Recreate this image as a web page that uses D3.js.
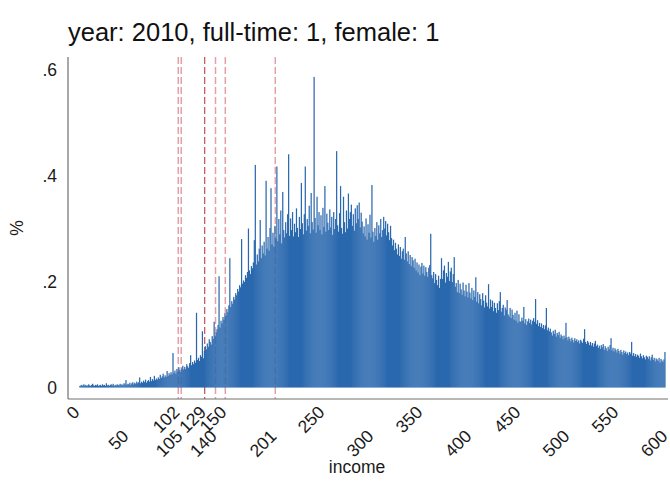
<!DOCTYPE html>
<html>
<head>
<meta charset="utf-8">
<script src="https://cdn.jsdelivr.net/npm/d3@7"></script>
<style>
  body { margin: 0; background: #fff; }
  text { font-family: "Liberation Sans", Arial, sans-serif; }
</style>
</head>
<body>
<svg id="chart" width="670" height="489"></svg>
<script>
// Share of observations (%) per income unit, starting at income 1
const incomeStart = 1;
const percents = [
  0.003,0.004,0.005,0.003,0.006,0.004,0.005,0.003,0.004,0.006,
  0.004,0.003,0.005,0.007,0.004,0.003,0.005,0.004,0.006,0.003,
  0.004,0.005,0.003,0.006,0.004,0.005,0.003,0.008,0.004,0.005,
  0.003,0.005,0.006,0.004,0.007,0.003,0.005,0.004,0.006,0.005,
  0.004,0.007,0.005,0.006,0.004,0.008,0.006,0.014,0.005,0.007,
  0.006,0.009,0.005,0.008,0.010,0.006,0.009,0.007,0.011,0.008,
  0.010,0.019,0.008,0.011,0.009,0.013,0.010,0.015,0.009,0.012,
  0.014,0.011,0.020,0.012,0.016,0.013,0.022,0.014,0.017,0.015,
  0.019,0.016,0.024,0.018,0.021,0.026,0.019,0.023,0.020,0.031,
  0.022,0.027,0.024,0.029,0.025,0.065,0.028,0.032,0.026,0.035,
  0.030,0.038,0.033,0.029,0.036,0.041,0.034,0.039,0.035,0.044,
  0.040,0.037,0.046,0.061,0.042,0.048,0.044,0.051,0.047,0.141,
  0.052,0.056,0.050,0.061,0.058,0.106,0.055,0.069,0.078,0.072,
  0.083,0.077,0.091,0.086,0.081,0.097,0.092,0.124,0.098,0.104,
  0.110,0.118,0.210,0.113,0.126,0.121,0.133,0.128,0.140,0.136,
  0.148,0.142,0.155,0.244,0.152,0.163,0.158,0.171,0.166,0.178,
  0.174,0.186,0.181,0.193,0.189,0.280,0.196,0.202,0.199,0.212,
  0.207,0.218,0.300,0.221,0.214,0.229,0.225,0.236,0.278,0.420,
  0.232,0.251,0.238,0.262,0.316,0.244,0.268,0.253,0.275,0.249,
  0.390,0.262,0.284,0.258,0.301,0.376,0.270,0.292,0.266,0.305,
  0.281,0.417,0.276,0.318,0.289,0.334,0.272,0.369,0.297,0.283,
  0.312,0.291,0.327,0.440,0.286,0.319,0.297,0.331,0.285,0.309,
  0.293,0.338,0.301,0.284,0.322,0.299,0.386,0.310,0.289,0.327,
  0.417,0.296,0.318,0.305,0.343,0.291,0.367,0.312,0.298,0.586,
  0.320,0.292,0.360,0.306,0.331,0.297,0.325,0.289,0.339,0.303,
  0.380,0.294,0.328,0.311,0.297,0.336,0.302,0.322,0.288,0.331,
  0.299,0.318,0.446,0.306,0.294,0.329,0.380,0.301,0.290,0.360,
  0.312,0.293,0.334,0.300,0.366,0.318,0.331,0.345,0.305,0.327,
  0.296,0.338,0.310,0.344,0.318,0.349,0.302,0.330,0.313,0.291,
  0.304,0.285,0.319,0.279,0.308,0.292,0.326,0.283,0.382,0.294,
  0.275,0.301,0.286,0.312,0.279,0.306,0.291,0.318,0.284,0.297,
  0.322,0.300,0.314,0.287,0.309,0.293,0.278,0.305,0.282,0.268,
  0.279,0.259,0.273,0.262,0.251,0.270,0.248,0.265,0.243,0.257,
  0.262,0.241,0.284,0.253,0.238,0.257,0.233,0.250,0.229,0.246,
  0.240,0.226,0.243,0.221,0.236,0.217,0.232,0.212,0.228,0.235,
  0.215,0.230,0.211,0.227,0.218,0.209,0.226,0.231,0.290,0.212,
  0.206,0.218,0.197,0.214,0.203,0.193,0.211,0.188,0.205,0.244,
  0.205,0.221,0.230,0.198,0.216,0.209,0.237,0.201,0.219,0.226,
  0.199,0.214,0.246,0.190,0.197,0.180,0.203,0.178,0.196,0.185,
  0.175,0.198,0.183,0.172,0.194,0.181,0.170,0.197,0.179,0.168,
  0.188,0.165,0.183,0.171,0.208,0.162,0.180,0.159,0.176,0.167,
  0.155,0.178,0.164,0.151,0.174,0.160,0.153,0.195,0.149,0.166,
  0.152,0.164,0.144,0.160,0.150,0.141,0.159,0.146,0.163,0.180,
  0.143,0.150,0.156,0.136,0.151,0.147,0.165,0.138,0.134,0.150,
  0.131,0.147,0.137,0.128,0.141,0.126,0.145,0.122,0.138,0.125,
  0.124,0.132,0.126,0.152,0.121,0.129,0.118,0.125,0.130,0.122,
  0.128,0.119,0.126,0.131,0.124,0.167,0.120,0.127,0.116,0.122,
  0.114,0.121,0.112,0.118,0.110,0.117,0.150,0.108,0.113,0.106,
  0.111,0.104,0.098,0.107,0.101,0.109,0.096,0.103,0.099,0.105,
  0.094,0.100,0.097,0.091,0.098,0.093,0.122,0.095,0.089,0.096,
  0.092,0.087,0.094,0.090,0.085,0.093,0.088,0.091,0.086,0.089,
  0.083,0.090,0.087,0.084,0.092,0.110,0.086,0.082,0.088,0.085,
  0.080,0.086,0.079,0.084,0.077,0.083,0.088,0.078,0.081,0.075,
  0.079,0.073,0.080,0.076,0.082,0.071,0.078,0.074,0.069,0.077,
  0.072,0.080,0.093,0.070,0.075,0.068,0.074,0.071,0.066,0.073,
  0.069,0.064,0.071,0.067,0.062,0.070,0.065,0.068,0.063,0.066,
  0.061,0.067,0.064,0.086,0.060,0.065,0.059,0.063,0.058,0.062,
  0.060,0.056,0.064,0.059,0.055,0.061,0.057,0.053,0.060,0.058,
  0.054,0.059,0.051,0.057,0.062,0.052,0.056,0.049,0.055,0.053,
  0.050,0.056,0.047,0.054,0.051,0.048,0.053,0.067
];

const yTicks = [0, 0.2, 0.4, 0.6];
const yTickLabels = ["0", ".2", ".4", ".6"];
const xTicks = [0, 50, 102, 105, 129, 140, 150, 201, 250, 300, 350, 400, 450, 500, 550, 600];
const markerLines = [102, 105, 129, 140, 150, 201];
const strongMarker = 129;

const titleText = "year: 2010, full-time: 1, female: 1";
const xTitle = "income";
const yTitle = "%";

const svg = d3.select("#chart");

const x = d3.scaleLinear().domain([0, 600]).range([78.3, 666.3]);
const y = d3.scaleLinear().domain([0, 0.6]).range([387.5, 69.5]);

const frame = { left: 68, right: 668, top: 57, bottom: 399 };

// Title
svg.append("text")
  .attr("x", 68).attr("y", 41)
  .attr("font-size", 25.5).attr("fill", "#111")
  .text(titleText);

// Reference lines at selected incomes (behind the bars)
svg.append("g").selectAll("line")
  .data(markerLines)
  .join("line")
  .attr("x1", d => x(d)).attr("x2", d => x(d))
  .attr("y1", frame.top).attr("y2", frame.bottom)
  .attr("stroke", d => d === strongMarker ? "#b9404c" : "#e4a0a8")
  .attr("stroke-width", d => d === strongMarker ? 1.1 : 1.5)
  .attr("stroke-dasharray", "7,3");

// Histogram bars, one per income unit (slight overlap keeps the fill solid)
const bins = percents.map((v, i) => ({ income: incomeStart + i, value: v }));
svg.append("g").selectAll("rect")
  .data(bins)
  .join("rect")
  .attr("x", d => x(d.income))
  .attr("width", d => (x(d.income + 1) - x(d.income)) + 0.25)
  .attr("y", d => y(d.value))
  .attr("height", d => y(0) - y(d.value))
  .attr("fill", "#2a68ae");

// Axis frame lines
svg.append("line")
  .attr("x1", frame.left).attr("x2", frame.left)
  .attr("y1", frame.top).attr("y2", frame.bottom)
  .attr("stroke", "#707070").attr("stroke-width", 1.2);
svg.append("line")
  .attr("x1", frame.left).attr("x2", frame.right)
  .attr("y1", frame.bottom).attr("y2", frame.bottom)
  .attr("stroke", "#707070").attr("stroke-width", 1.2);

// Y tick labels
svg.append("g").selectAll("text")
  .data(yTicks)
  .join("text")
  .attr("x", 57)
  .attr("y", d => y(d))
  .attr("dy", "0.35em")
  .attr("text-anchor", "end")
  .attr("font-size", 17.5).attr("fill", "#1a1a1a")
  .text((d, i) => yTickLabels[i]);

// X tick labels, rotated, alternating between two rows
svg.append("g").selectAll("text")
  .data(xTicks)
  .join("text")
  .attr("transform", (d, i) => `translate(${x(d) - 2},${i % 2 === 0 ? 409 : 433}) rotate(-45)`)
  .attr("dy", "0.35em")
  .attr("text-anchor", "end")
  .attr("font-size", 17.5).attr("fill", "#1a1a1a")
  .text(d => d);

// Axis titles
svg.append("text")
  .attr("x", 357).attr("y", 473)
  .attr("text-anchor", "middle")
  .attr("font-size", 17.5).attr("fill", "#1a1a1a")
  .text(xTitle);
svg.append("text")
  .attr("transform", "translate(23,228) rotate(-90)")
  .attr("text-anchor", "middle")
  .attr("font-size", 17.5).attr("fill", "#1a1a1a")
  .text(yTitle);
</script>
</body>
</html>
